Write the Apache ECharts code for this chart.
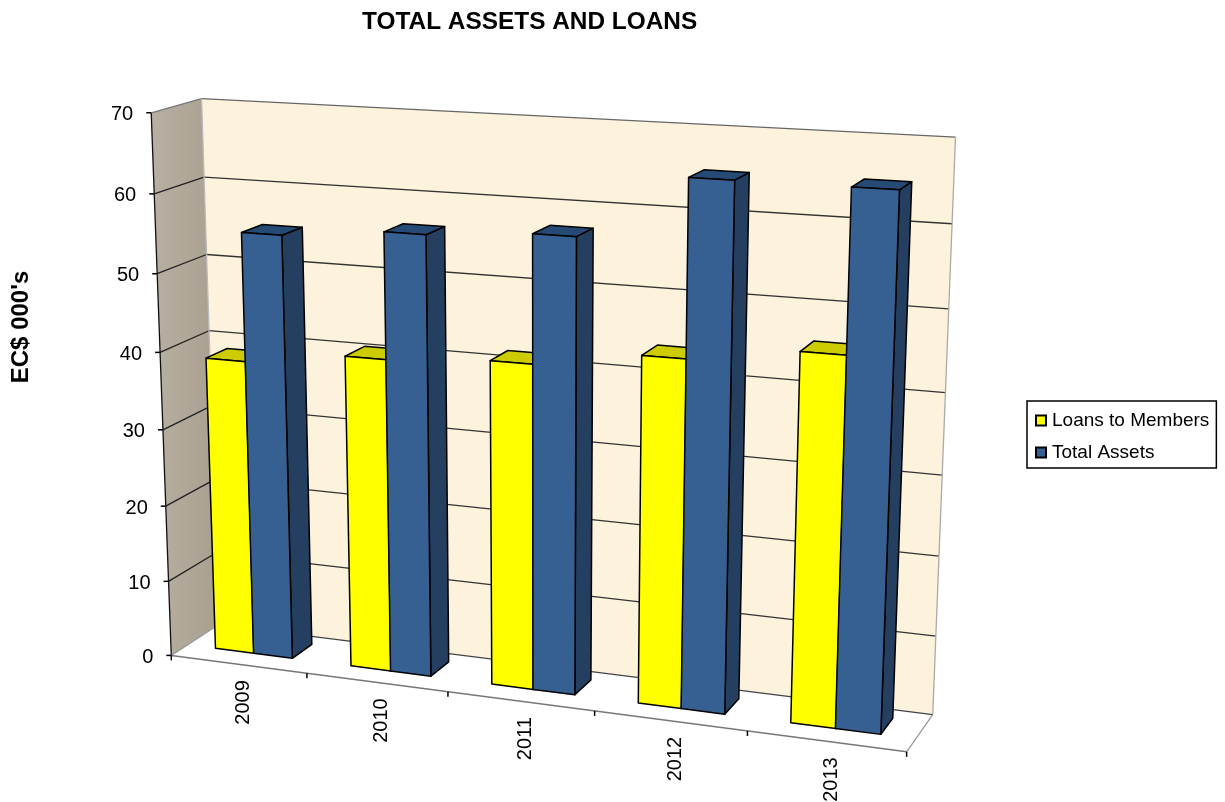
<!DOCTYPE html>
<html><head><meta charset="utf-8">
<script src="https://cdn.jsdelivr.net/npm/echarts@6/dist/echarts.min.js"></script>
<style>html,body{margin:0;padding:0;background:#fff}#c{width:1225px;height:802px}</style>
</head><body><div id="c"></div>
<script>
const categories = ['2009','2010','2011','2012','2013'];
const loans = [38.6,40.4,41.4,43.6,45.6];
const assets = [55,56.3,57.3,65.1,65.1];
const yTicks = [0,10,20,30,40,50,60,70];
const FF = '"Liberation Sans",Arial,sans-serif';
// view calibration of the 3D box: [category pos, value, depth] -> screen
const calib = [
[0,0,0,173,654],[0,0,0,173,654],[0,0,0,173,654],[0,70,0,150,113],[0,70,0,150,113],[0,60,0,153,194],[0,50,0,156,274],[0,40,0,160,352],[0,10,0,168,581],
[0,0,1,213,628],[0,70,1,203,99],[0,60,1,205,177],[0,50,1,208,254],[0,40,1,211,330],
[5,0,0,907,752],[1,0,0,307,674],[2,0,0,448,693],[4,0,0,747,733],
[5,0,1,933,712],[5,70,1,956,137],[5,60,1,952,224],[5,50,1,948,309]];
function solve(A,b){const n=b.length;const M=A.map((r,i)=>r.concat(b[i]));
 for(let i=0;i<n;i++){let p=i;for(let k=i+1;k<n;k++)if(Math.abs(M[k][i])>Math.abs(M[p][i]))p=k;
  [M[i],M[p]]=[M[p],M[i]];
  for(let k=i+1;k<n;k++){const f=M[k][i]/M[i][i];for(let j=i;j<=n;j++)M[k][j]-=f*M[i][j];}}
 const x=new Array(n).fill(0);
 for(let i=n-1;i>=0;i--){let s=M[i][n];for(let j=i+1;j<n;j++)s-=M[i][j]*x[j];x[i]=s/M[i][i];}
 return x;}
const P=(function(){const AtA=Array.from({length:11},()=>new Array(11).fill(0)),Atb=new Array(11).fill(0);
 function add(r,v){for(let i=0;i<11;i++){Atb[i]+=r[i]*v;for(let j=0;j<11;j++)AtA[i][j]+=r[i]*r[j];}}
 calib.forEach(c=>{const X=c[0]/5,Y=c[1]/70,Z=c[2],u=c[3]/1000,v=c[4]/1000;
  add([X,Y,Z,1,0,0,0,0,-u*X,-u*Y,-u*Z],u);
  add([0,0,0,0,X,Y,Z,1,-v*X,-v*Y,-v*Z],v);});
 return solve(AtA,Atb);})();
function proj(x,y,z){const X=x/5,Y=y/70,Z=z;const w=P[8]*X+P[9]*Y+P[10]*Z+1;
 return [1000*(P[0]*X+P[1]*Y+P[2]*Z+P[3])/w,1000*(P[4]*X+P[5]*Y+P[6]*Z+P[7])/w];}

const barOff=[0.21,0.495], barW=0.287, z0=0.34, z1=0.78;
// convert library scale output into model coordinates, then project
function model(api){const band=api.size([1,0])[0], vs=api.size([0,1])[1];
 const o=api.coord([0,0]);
 return {x:(cat,frac)=>((api.coord([cat,0])[0]-band/2+frac*band)-(o[0]-band/2))/band,
         y:v=>(o[1]-api.coord([0,v])[1])/vs};}
function poly(pts,fill,stroke,lw){return {type:'polygon',shape:{points:pts},style:{fill:fill,stroke:stroke||'#000',lineWidth:lw==null?1.5:lw,lineJoin:'round'}};}
function line(a,b,col,lw){return {type:'line',shape:{x1:a[0],y1:a[1],x2:b[0],y2:b[1]},style:{stroke:col,lineWidth:lw||1.3}};}

function barRender(off,front,top,side){return function(params,api){
 const m=model(api),i=api.value(0),v=api.value(1);
 const x0=m.x(i,off),x1=m.x(i,off+barW),h=m.y(v);
 const c=(x,y,z)=>proj(x,y,z);
 return {type:'group',children:[
  poly([c(x1,0,z0),c(x1,0,z1),c(x1,h,z1),c(x1,h,z0)],side),
  poly([c(x0,h,z0),c(x0,h,z1),c(x1,h,z1),c(x1,h,z0)],top),
  poly([c(x0,0,z0),c(x1,0,z0),c(x1,h,z0),c(x0,h,z0)],front)
 ]};};}

function frameRender(params,api){
 const m=model(api),X=m.x(categories.length-1,1),ch=[];
 const y=m.y(yTicks[yTicks.length-1]);
 const tan={type:'linear',x:0,y:0,x2:1,y2:0,colorStops:[{offset:0,color:'#B8B0A2'},{offset:1,color:'#A89F8F'}]};
 ch.push(poly([proj(0,0,1),proj(X,0,1),proj(X,0,0),proj(0,0,0)],'#fff','none',0));
 ch.push(poly([proj(0,0,1),proj(X,0,1),proj(X,y,1),proj(0,y,1)],'#FDF2DC','none',0));
 ch.push(poly([proj(0,0,0),proj(0,0,1),proj(0,y,1),proj(0,y,0)],tan,'none',0));
 yTicks.forEach(t=>{const v=m.y(t);
  if(t>0&&t<y){ch.push(line(proj(0,v,0),proj(0,v,1),'#222'));ch.push(line(proj(0,v,1),proj(X,v,1),'#333'));}
  const f=proj(0,v,0);
  ch.push(line([f[0]-5,f[1]],f,'#000',1.5));
  ch.push({type:'text',style:{text:String(t),x:f[0]-18,y:f[1]+2,textAlign:'right',textVerticalAlign:'middle',font:'20px '+FF,fill:'#000'}});
 });
 ch.push(line(proj(0,y,0),proj(0,y,1),'#777'));
 ch.push(line(proj(0,y,1),proj(X,y,1),'#666'));
 ch.push(line(proj(X,y,1),proj(X,0,1),'#aaa'));
 ch.push(line(proj(0,y,1),proj(0,0,1),'#bbb'));
 ch.push(line(proj(0,0,1),proj(X,0,1),'#444'));
 ch.push(line(proj(0,0,0),proj(0,0,1),'#999'));
 ch.push(line(proj(X,0,0),proj(X,0,1),'#999'));
 ch.push(line(proj(0,0,0),proj(0,y,0),'#111',1.3));
 ch.push(line(proj(0,0,0),proj(X,0,0),'#777',1.5));
 for(let i=0;i<=categories.length;i++){const f=proj(i,0,0);ch.push(line(f,[f[0],f[1]+5],'#000',1.5));}
 categories.forEach((c,i)=>{const f=proj(m.x(i,0.5),0,0);
  ch.push({type:'text',x:f[0]+5,y:f[1]+16,rotation:Math.PI/2,style:{text:c,x:0,y:0,textAlign:'right',textVerticalAlign:'middle',font:'20px '+FF,fill:'#000'}});});
 return {type:'group',children:ch};
}
const chart=echarts.init(document.getElementById('c'),null,{renderer:'canvas'});
chart.setOption({
 animation:false,backgroundColor:'#fff',
 title:{text:'TOTAL ASSETS AND LOANS',left:362,top:10,padding:0,textStyle:{fontFamily:FF,fontSize:24.4,fontWeight:'bold',color:'#000'}},
 legend:{orient:'vertical',left:1027,top:401,padding:[10,7,6,8],itemWidth:10,itemHeight:10,itemGap:13,borderColor:'#000',borderWidth:1.5,backgroundColor:'#fff',
  data:[{name:'Loans to Members',icon:'rect'},{name:'Total Assets',icon:'rect'}],
  textStyle:{fontFamily:FF,fontSize:19,color:'#000',padding:[0,0,0,1]}},
 grid:{left:173,top:100,width:734,height:454},
 xAxis:{type:'category',data:categories,show:false},
 yAxis:{type:'value',min:0,max:70,interval:10,axisLine:{show:false},axisTick:{show:false},axisLabel:{show:false},splitLine:{show:false},
  name:"EC$ 000's",nameLocation:'middle',nameRotate:90,nameGap:140,nameTextStyle:{fontFamily:FF,fontSize:24,fontWeight:'bold',color:'#000'}},
 series:[
  {type:'custom',name:'frame',silent:true,clip:false,data:[[0,0]],renderItem:frameRender,z:1},
  {type:'custom',name:'Loans to Members',clip:false,z:2,itemStyle:{color:'#FFFF00',borderColor:'#000',borderWidth:1},data:loans.map((v,i)=>[i,v]),renderItem:barRender(barOff[0],'#FFFF00','#CCCC00','#A0A000')},
  {type:'custom',name:'Total Assets',clip:false,z:3,itemStyle:{color:'#376092',borderColor:'#000',borderWidth:1},data:assets.map((v,i)=>[i,v]),renderItem:barRender(barOff[1],'#376092','#254A75','#243F60')}
 ]
});
</script></body></html>
